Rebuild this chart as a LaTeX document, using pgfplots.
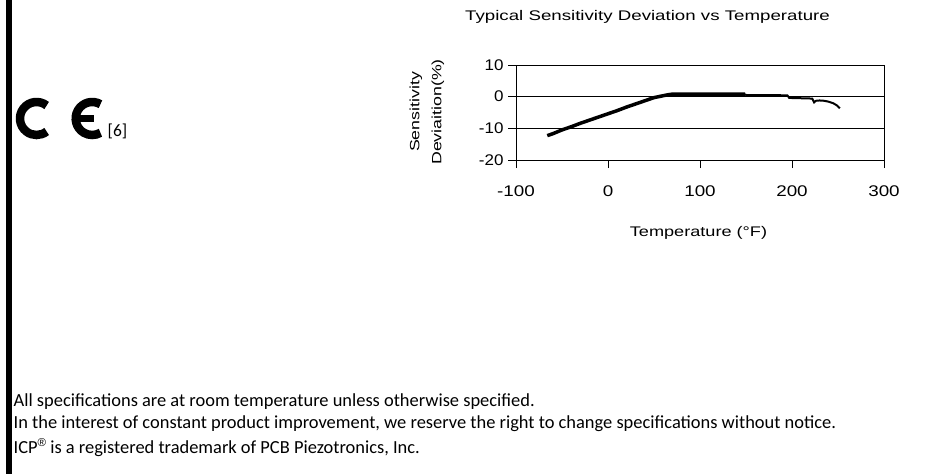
\documentclass[border=0pt]{standalone}
\usepackage{fontspec}
\setmainfont{Liberation Sans}
\newfontfamily\calib{Carlito}
\usepackage{pgfplots}
\pgfplotsset{compat=1.18}

\begin{document}
\begin{tikzpicture}
\useasboundingbox (0,0) rectangle (951bp,-474bp);
\fill[white] (0,0) rectangle (951bp,-474bp);
% page edge bar
\fill[black] (6bp,0) rectangle (12bp,-474bp);

% CE mark
\draw[line width=8.5bp] ([shift={(52:16.5bp)}]36.5bp,-118.5bp) arc[start angle=52,end angle=308,radius=16.5bp];
\draw[line width=8.5bp] ([shift={(60:16.5bp)}]92.2bp,-118.5bp) arc[start angle=60,end angle=300,radius=16.5bp];
\fill[black] (77bp,-115bp) rectangle (94bp,-121.5bp);
\node[anchor=base west, inner sep=0pt, font=\calib\fontsize{17.5}{17.5}\selectfont] at (107.5bp,-136.5bp) {[6]};

% chart texts
\node[font=\fontsize{14}{14}\selectfont] at (647.5bp,-16.5bp) {\scalebox{1.34}[1]{Typical Sensitivity Deviation vs Temperature}};
\node[rotate=90, font=\fontsize{13.5}{13.5}\selectfont] at (416bp,-112bp) {\scalebox{1.32}[1]{Sensitivity}};
\node[rotate=90, font=\fontsize{13.5}{13.5}\selectfont] at (438bp,-112bp) {\scalebox{1.32}[1]{Deviaition(\%)}};
\node[font=\fontsize{14}{14}\selectfont] at (698.5bp,-233bp) {\scalebox{1.3}[1]{Temperature (\textdegree F)}};

\begin{axis}[
    at={(516bp,-160bp)}, anchor=south west,
    scale only axis,
    width=368bp, height=95bp,
    xmin=-100, xmax=300,
    ymin=-20, ymax=10,
    xtick={-100,0,100,200,300},
    ytick={-20,-10,0,10},
    xtick pos=bottom, ytick pos=left,
    tick align=outside,
    major tick length=8bp,
    axis line style={black, line width=0.9bp},
    tick style={black, line width=0.9bp},
    ymajorgrids,
    major grid style={black, line width=0.9bp},
    /pgf/number format/assume math mode=true,
    xticklabel={\scalebox{1.22}[1]{\pgfmathprintnumber{\tick}}},
    yticklabel={\scalebox{1.1}[1]{\pgfmathprintnumber{\tick}}},
    tick label style={font=\fontsize{15.5}{15.5}\selectfont},
    xticklabel style={yshift=-14bp},
    yticklabel style={xshift=-1bp},
]
\addplot[black, line width=3.5bp] coordinates {
  (-66,-12.3) (-60,-11.7) (-50,-10.5) (-45,-10) (-40,-9.5) (-30,-8.4)
  (-20,-7.4) (-10,-6.4) (0,-5.4) (10,-4.4) (20,-3.3) (30,-2.3)
  (40,-1.3) (50,-0.3) (55,0) (60,0.3) (65,0.6) (70,0.8) (80,0.8)
  (90,0.8) (100,0.8) (110,0.8) (120,0.8) (130,0.8) (140,0.8) (149,0.8)
};
\addplot[black, line width=2bp] coordinates {
  (149,0.8) (150,0.5) (160,0.5) (170,0.5) (180,0.5) (195,0.4) (197,-0.4)
  (210,-0.5) (222,-0.6) (224,-1.8) (226,-1.3) (230,-1.2) (235,-1.3)
  (240,-1.6) (245,-2.1) (249,-2.8) (252,-3.7)
};
\end{axis}

% footer
\begin{scope}[every node/.style={anchor=base west, inner sep=0pt, font=\calib\fontsize{18.5}{18.5}\selectfont}]
\node at (13.5bp,-406bp) {All specifications are at room temperature unless otherwise specified.};
\node at (13.5bp,-428.5bp) {In the interest of constant product improvement, we reserve the right to change specifications without notice.};
\node at (13.5bp,-453bp) {ICP\raisebox{6.5bp}{\fontsize{11.5}{11.5}\fontspec{Liberation Sans}®} is a registered trademark of PCB Piezotronics, Inc.};
\end{scope}
\end{tikzpicture}
\end{document}
